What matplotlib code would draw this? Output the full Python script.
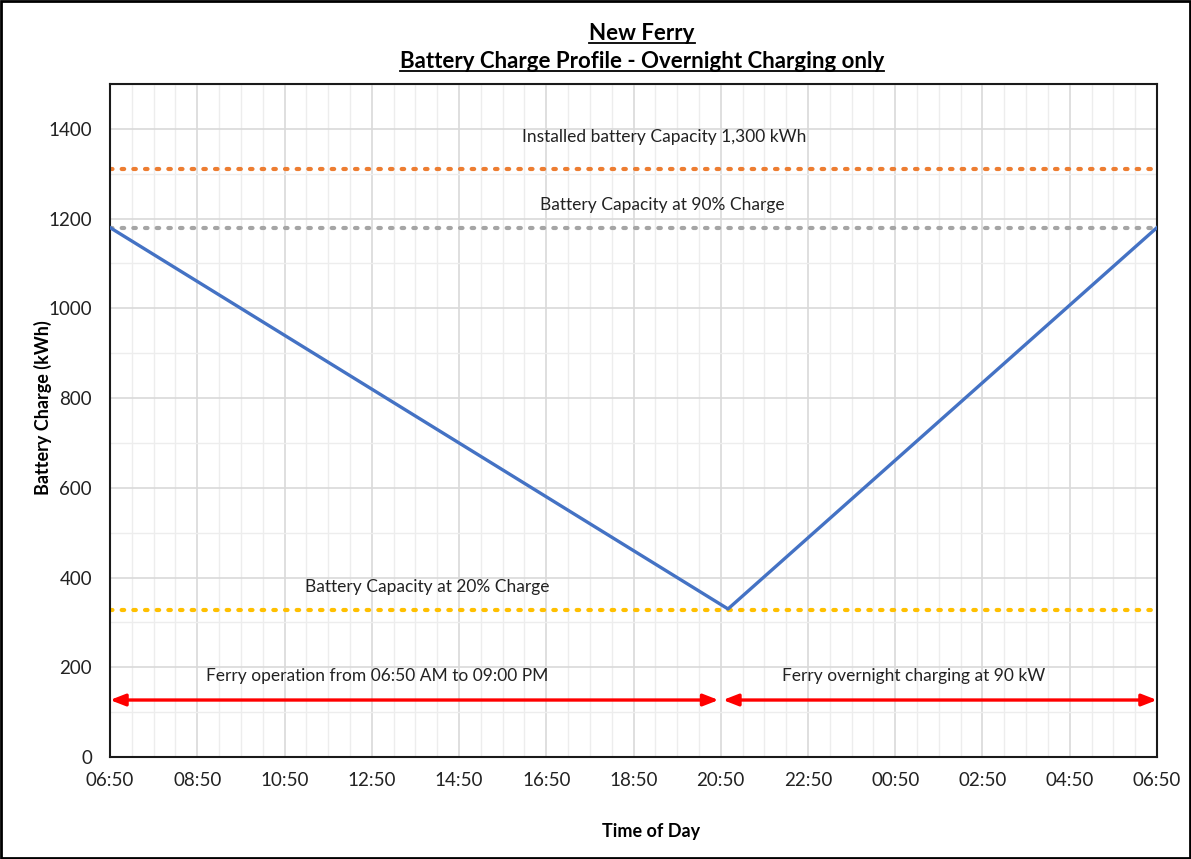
import matplotlib
matplotlib.use("Agg")
import matplotlib.pyplot as plt
import matplotlib.dates as mdates
from matplotlib.lines import Line2D
from matplotlib.patches import Rectangle
import pandas as pd

plt.rcParams["font.family"] = ["Lato", "DejaVu Sans"]

# データ
times = pd.to_datetime(["2023-01-01 06:50", "2023-01-01 21:00", "2023-01-02 06:50"])
charge = [1180, 330, 1180]

installed_cap = 1311
cap_90 = 1180
cap_20 = 328

ops_span = pd.to_datetime(["2023-01-01 06:50", "2023-01-01 20:47"])
chg_span = pd.to_datetime(["2023-01-01 20:53", "2023-01-02 06:50"])
arrow_level = 127

x_start = pd.Timestamp("2023-01-01 06:50")
x_end = pd.Timestamp("2023-01-02 06:50")
major_ticks = pd.date_range(x_start, x_end, freq="2h")
minor_ticks = pd.date_range(x_start, x_end, freq="30min")

W, H = 1191, 859
fig = plt.figure(figsize=(W / 100, H / 100), dpi=100)
ax = fig.add_axes([110 / W, 1 - 757 / H, (1157 - 110) / W, (757 - 84) / H])

# グリッド
ax.set_xticks(major_ticks)
ax.set_xticks(minor_ticks, minor=True)
ax.set_yticks(range(0, 1401, 200))
ax.set_yticks(range(0, 1501, 100), minor=True)
ax.grid(which="major", color="#d9d9d9", linewidth=1.2)
ax.grid(which="minor", color="#ededed", linewidth=1.0)
ax.set_axisbelow(True)
ax.xaxis.set_major_formatter(mdates.DateFormatter("%H:%M"))
ax.tick_params(which="both", length=0, labelsize=13.5, colors="#222222")
ax.tick_params(axis="x", pad=11)
ax.tick_params(axis="y", pad=13)

ax.set_xlim(x_start, x_end)
ax.set_ylim(0, 1500)

# 基準線
dots = (0, (0.6, 2.2))
ax.axhline(installed_cap, color="#ED7D31", linestyle=dots, linewidth=3, dash_capstyle="round")
ax.axhline(cap_90, color="#A5A5A5", linestyle=dots, linewidth=3, dash_capstyle="round")
ax.axhline(cap_20, color="#FFC000", linestyle=dots, linewidth=3, dash_capstyle="round")

# 充電プロファイル
ax.plot(times, charge, color="#4472C4", linewidth=2.4, zorder=5)

# 矢印
for span in (ops_span, chg_span):
    ax.annotate("", xy=(span[1], arrow_level), xytext=(span[0], arrow_level),
                arrowprops=dict(arrowstyle="<|-|>,head_length=0.9,head_width=0.35",
                                color="#FF0000", linewidth=2.4, shrinkA=0, shrinkB=0))

# 注記
fs = 12.5
ax.text(pd.Timestamp("2023-01-01 19:32"), 1382, "Installed battery Capacity 1,300 kWh",
        ha="center", va="center", fontsize=fs, color="#222222")
ax.text(pd.Timestamp("2023-01-01 19:30"), 1231, "Battery Capacity at 90% Charge",
        ha="center", va="center", fontsize=fs, color="#222222")
ax.text(pd.Timestamp("2023-01-01 14:07"), 378, "Battery Capacity at 20% Charge",
        ha="center", va="center", fontsize=fs, color="#222222")
ax.text(pd.Timestamp("2023-01-01 12:57"), 180, "Ferry operation from 06:50 AM to 09:00 PM",
        ha="center", va="center", fontsize=fs, color="#222222")
ax.text(pd.Timestamp("2023-01-02 01:15"), 180, "Ferry overnight charging at 90 kW",
        ha="center", va="center", fontsize=fs, color="#222222")

ax.set_ylabel("Battery Charge (kWh)", fontsize=13, fontweight="bold")
ax.set_xlabel("Time of Day", fontsize=13, fontweight="bold")
ax.yaxis.set_label_coords((43 - 110) / (1157 - 110), (757 - 408) / (757 - 84))
ax.xaxis.set_label_coords((651 - 110) / (1157 - 110), -(832 - 757) / (757 - 84))
ax.yaxis.label.set_va("center")
ax.xaxis.label.set_va("center")

for side in ax.spines.values():
    side.set_color("#1a1a1a")
    side.set_linewidth(1.5)

# タイトル（下線付き）
t1 = fig.text(642 / W, 1 - 34 / H, "New Ferry", ha="center", va="center", fontsize=16, fontweight="bold")
t2 = fig.text(642 / W, 1 - 62 / H, "Battery Charge Profile - Overnight Charging only",
              ha="center", va="center", fontsize=16, fontweight="bold")
fig.canvas.draw()
renderer = fig.canvas.get_renderer()
inv = fig.transFigure.inverted()
for t in (t1, t2):
    bb = t.get_window_extent(renderer)
    (x0, y0), (x1, y1) = inv.transform([(bb.x0, bb.y0), (bb.x1, bb.y1)])
    fig.add_artist(Line2D([x0, x1], [y0 + 0.002, y0 + 0.002], transform=fig.transFigure,
                          color="black", linewidth=1.3))

# 外枠
fig.add_artist(Rectangle((0.001, 0.001), 0.998, 0.998, transform=fig.transFigure,
                         fill=False, edgecolor="black", linewidth=2))

fig.savefig("out.png", dpi=100)
